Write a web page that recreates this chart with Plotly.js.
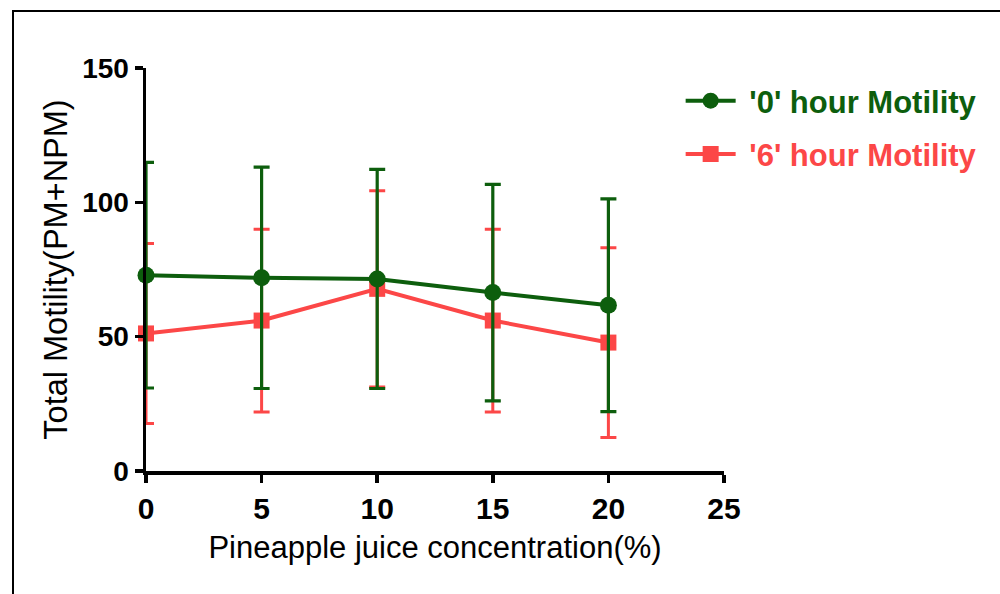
<!DOCTYPE html>
<html>
<head>
<meta charset="utf-8">
<script src="https://cdn.plot.ly/plotly-3.0.1.min.js"></script>
<style>
html,body{margin:0;padding:0;background:#fff;}
#wrap{position:relative;width:1000px;height:594px;}
#frame{position:absolute;left:12px;top:10px;width:1000px;height:600px;border:2px solid #000;box-sizing:border-box;pointer-events:none;}
</style>
</head>
<body>
<div id="wrap"><div id="plot" style="width:1000px;height:594px;"></div><div id="frame"></div></div>
<script>
const concentration = [0, 5, 10, 15, 20];
const motility0h = [72.9, 71.9, 71.5, 66.4, 61.7];
const motility0hErr = [42.0, 41.2, 40.8, 40.3, 39.6];
const motility6h = [51.2, 56.0, 67.8, 56.0, 47.8];
const motility6hErr = [33.5, 34.0, 36.5, 34.0, 35.3];
const xTicks = [0, 5, 10, 15, 20, 25];
const yTicks = [0, 50, 100, 150];

const green = '#0d5e0d';
const red = '#fc4747';
const sans = '"Liberation Sans", Arial, sans-serif';

const traces = [
  {
    x: concentration, y: motility6h, type: 'scatter', mode: 'lines+markers',
    name: '<span style="color:' + red + '">\u00A0\'6\' hour Motility</span>',
    legendgroup: 'b',
    line: {color: red, width: 4},
    marker: {symbol: 'square', size: 16, color: red},
    error_y: {type: 'data', array: motility6hErr, visible: true, color: red, thickness: 3, width: 8},
    legendrank: 2, cliponaxis: false
  },
  {
    x: concentration, y: motility0h, type: 'scatter', mode: 'lines+markers',
    name: '<span style="color:' + green + '">\u00A0\'0\' hour Motility</span>',
    legendgroup: 'a',
    line: {color: green, width: 4},
    marker: {symbol: 'circle', size: 17, color: green},
    error_y: {type: 'data', array: motility0hErr, visible: true, color: green, thickness: 3.2, width: 8},
    legendrank: 1, cliponaxis: false
  }
];

const layout = {
  width: 1000, height: 594,
  margin: {l: 146, r: 276, t: 68, b: 123, pad: 0, autoexpand: false},
  paper_bgcolor: '#fff', plot_bgcolor: '#fff',
  showlegend: true,
  legend: {x: 0.925, y: 0.985, xanchor: 'left', yanchor: 'top',
           traceorder: 'grouped',
           font: {family: sans, size: 31, weight: 'bold'},
           tracegroupgap: 10, itemwidth: 50, bgcolor: 'rgba(0,0,0,0)'},
  xaxis: {
    range: [0, 25], tickvals: xTicks, ticktext: xTicks.map(String),
    showline: true, linecolor: '#000', linewidth: 3.5, zeroline: false, showgrid: false,
    ticks: 'outside', ticklen: 8, tickwidth: 3.5, tickcolor: '#000',
    tickfont: {family: sans, size: 30, color: '#000', weight: 'bold'},
    title: {text: 'Pineapple juice concentration(%)', standoff: 14,
            font: {family: sans, size: 31, color: '#000'}},
    fixedrange: true
  },
  yaxis: {
    range: [0, 150], tickvals: yTicks, ticktext: yTicks.map(String),
    showline: true, linecolor: '#000', linewidth: 3.5, zeroline: false, showgrid: false,
    ticks: 'outside', ticklen: 8, tickwidth: 3.5, tickcolor: '#000',
    tickfont: {family: sans, size: 28, color: '#000', weight: 'bold'},
    title: {text: 'Total Motility(PM+NPM)', standoff: 6,
            font: {family: sans, size: 32.5, color: '#000'}},
    fixedrange: true
  }
};

Plotly.newPlot('plot', traces, layout, {displayModeBar: false, staticPlot: true});
</script>
</body>
</html>
